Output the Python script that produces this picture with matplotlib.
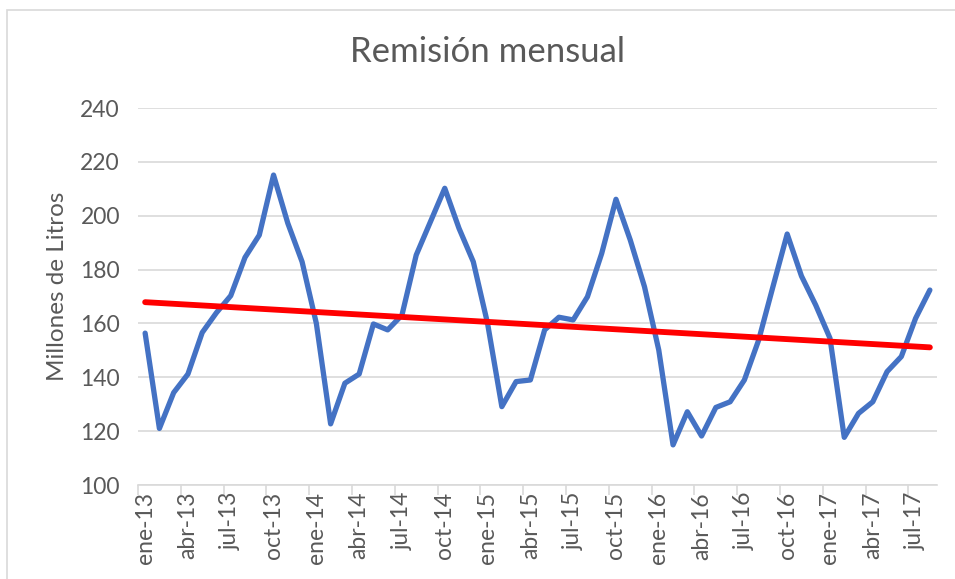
import numpy as np
import matplotlib.pyplot as plt
from matplotlib.patches import Rectangle

# datos mensuales ene-13 .. ago-17 (millones de litros)
meses = ["ene", "feb", "mar", "abr", "may", "jun", "jul", "ago", "sep", "oct", "nov", "dic"]
fechas = [f"{meses[i % 12]}-{13 + i // 12}" for i in range(56)]
remision = [156.4, 121.0, 134.3, 141.2, 156.6, 164.0, 170.3, 184.5, 192.8, 215.1, 197.2, 182.9,
            160.0, 122.7, 137.8, 141.2, 159.8, 157.6, 163.1, 185.4, 197.8, 210.2, 195.3, 182.9,
            160.0, 129.1, 138.4, 139.0, 157.6, 162.3, 161.3, 169.9, 186.0, 206.1, 191.0, 173.6,
            150.1, 114.9, 127.2, 118.2, 128.8, 130.9, 139.0, 153.8, 173.6, 193.2, 177.6, 166.8,
            154.5, 117.7, 126.6, 130.9, 142.1, 147.7, 161.9, 172.4]

plt.rcParams['font.family'] = ['Lato', 'DejaVu Sans']
gris = '#595959'
linea = '#d9d9d9'

x = np.arange(len(remision))
m, b = np.polyfit(x, remision, 1)
tendencia = m * x + b

fig = plt.figure(figsize=(9.55, 5.79), dpi=100)
ax = fig.add_axes([138/955, 94/579, 799/955, 377/579])

ax.plot(x, remision, color='#4472C4', lw=3.8, solid_joinstyle='round', solid_capstyle='round', zorder=3)
ax.plot(x, tendencia, color='#FF0000', lw=4.2, solid_capstyle='round', zorder=4)

ax.set_xlim(-0.5, len(remision) - 0.5)
ax.set_ylim(100, 240)
ax.set_yticks(range(100, 241, 20))
ax.yaxis.grid(True, color=linea, lw=1.2)
ax.set_axisbelow(True)

# marcas entre meses, etiquetas en el centro del mes
ax.set_xticks(np.arange(-0.5, len(remision) - 1, 3))
ax.set_xticklabels([])
ax.set_xticks(x[::3], minor=True)
ax.set_xticklabels(fechas[::3], minor=True, rotation=90, fontsize=16.5, color=gris)
ax.tick_params(axis='x', which='major', length=7, color=linea, width=1.2)
ax.tick_params(axis='x', which='minor', length=0, pad=5)
ax.tick_params(axis='y', length=0, labelsize=16.5, labelcolor=gris, pad=13)

for s in ['top', 'right', 'left']:
    ax.spines[s].set_visible(False)
ax.spines['bottom'].set_color(linea)
ax.spines['bottom'].set_linewidth(1.2)

fig.text(0.51, 1 - 52/579, "Remisión mensual", ha='center', va='center', fontsize=25, color=gris)
fig.text(58/955, 293/579, "Millones de Litros", rotation=90, ha='center', va='center', fontsize=17.5, color=gris)

fig.patches.append(Rectangle((7/955, -0.1), 1.2, 1 - 10/579 + 0.1, transform=fig.transFigure,
                             fill=False, edgecolor=linea, lw=1.2))

fig.savefig('out.png', dpi=100)
